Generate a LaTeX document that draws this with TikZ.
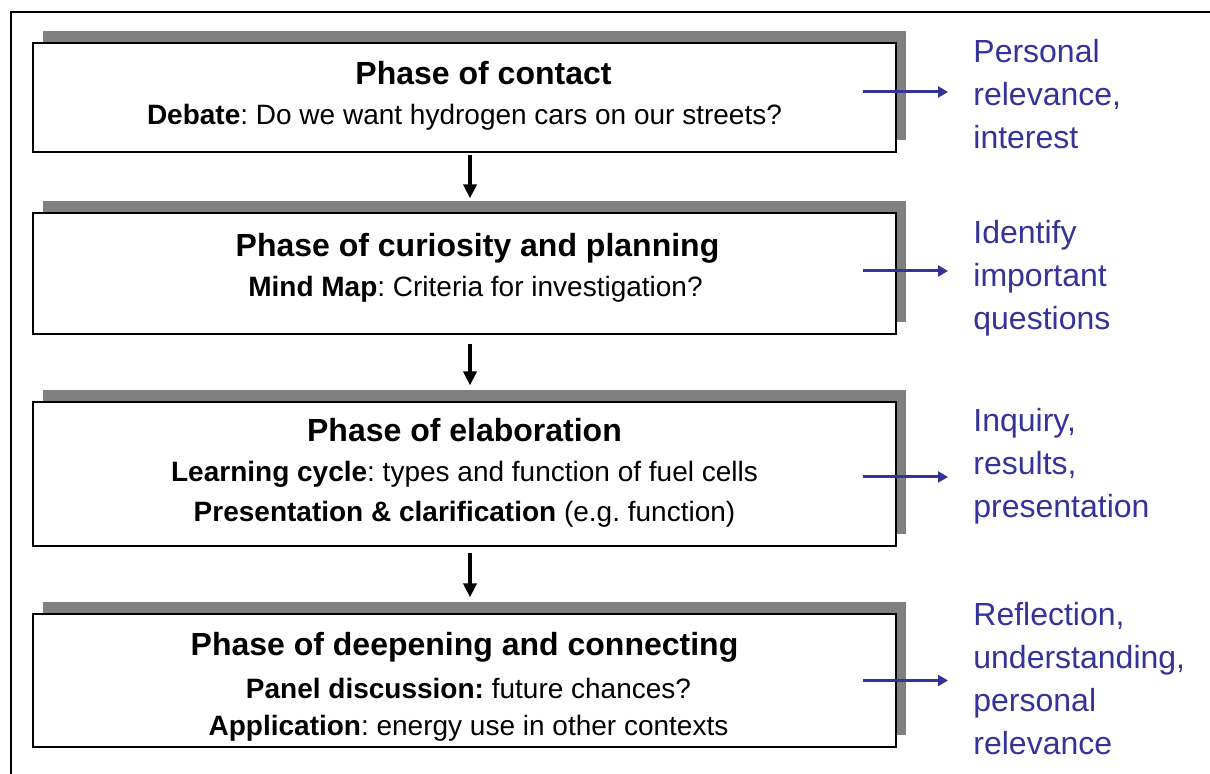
\documentclass[tikz,border=0pt]{standalone}
\usepackage{fontspec}
\setmainfont{Liberation Sans}
\frenchspacing
\usetikzlibrary{shadows,arrows.meta}
\definecolor{goalblue}{RGB}{51,51,153}
\definecolor{shadegray}{RGB}{128,128,128}
\tikzset{
  phasebox/.style={draw, line width=0.6pt, fill=white, minimum width=431.5pt, inner sep=0pt,
    drop shadow={shadow xshift=5pt, shadow yshift=6pt, fill=shadegray, opacity=1}},
  phasetext/.style={inner sep=0pt, align=center, font=\fontsize{14}{20}\selectfont},
  goal/.style={anchor=north west, inner sep=0pt, align=left, text=goalblue,
    font=\fontsize{16}{21.5}\selectfont},
  down/.style={-{Triangle[width=6.5pt,length=7pt]}, line width=2pt},
  side/.style={-{Triangle[width=5.5pt,length=5pt]}, line width=1.5pt, goalblue, shorten >=12.5pt}
}
\newcommand{\phasetitle}[1]{{\fontsize{16}{20}\selectfont\bfseries #1}}
\begin{document}
\begin{tikzpicture}[x=0.5pt,y=-0.5pt]
		\useasboundingbox (0,0) rectangle (1210,774);
		\draw[line width=0.75pt] (11,800) |- (1230,12);
		
		\node[phasebox, minimum height=54.5pt] (b1) at (464.5,97.5) {};
		\node[phasebox, minimum height=60.5pt] (b2) at (464.5,273.5) {};
		\node[phasebox, minimum height=72pt] (b3) at (464.5,474) {};
		\node[phasebox, minimum height=66.5pt] (b4) at (464.5,680.5) {};
		
		\node[phasetext] (t1) at ([yshift=1pt]b1.center)
		  {\hspace*{19pt}\phasetitle{Phase of contact}\\ \textbf{Debate}: Do we want hydrogen cars on our streets?};
		\node[phasetext] (t2) at ([yshift=3pt]b2.center)
		  {\hspace*{13pt}\phasetitle{Phase of curiosity and planning}\\ \hspace*{11pt}\textbf{Mind Map}: Criteria for investigation?};
		\node[phasetext] (t3) at ([yshift=0.5pt]b3.center)
		  {\phasetitle{Phase of elaboration}\\ \textbf{Learning cycle}: types and function of fuel cells\\
		   \textbf{Presentation \& clarification} (e.g. function)};
		\node[phasetext] (t4) at ([yshift=-3pt]b4.center)
		  {\phasetitle{Phase of deepening and connecting}\\[1.5pt] \hspace*{4pt}\textbf{Panel discussion:} future chances?\\[-1.5pt]
		   \hspace*{4pt}\textbf{Application}: energy use in other contexts};
		
		\node[goal] (l1) at (973,39) {Personal\\ relevance,\\ interest};
		\node[goal] (l2) at (973,220) {Identify\\ important\\ questions};
		\node[goal] (l3) at (973,408) {Inquiry,\\ results,\\ presentation};
		\node[goal] (l4) at (973,602) {Reflection,\\ understanding,\\ personal\\ relevance};
		
		\draw[down] ([xshift=2.75pt,yshift=-1pt]b1.south) -- ([xshift=2.75pt,yshift=7pt]b2.north);
		\draw[down] ([xshift=2.75pt,yshift=-4.5pt]b2.south) -- ([xshift=2.75pt,yshift=8pt]b3.north);
		\draw[down] ([xshift=2.75pt,yshift=-3pt]b3.south) -- ([xshift=2.75pt,yshift=8pt]b4.north);
		
		\draw[side] ([xshift=-17pt,yshift=2.75pt]b1.east) coordinate (s1) -- (s1 -| l1.west);
		\draw[side] ([xshift=-17pt,yshift=1.25pt]b2.east) coordinate (s2) -- (s2 -| l2.west);
		\draw[side] ([xshift=-17pt,yshift=-1.5pt]b3.east) coordinate (s3) -- (s3 -| l3.west);
		\draw[side] ([xshift=-17pt]b4.east) coordinate (s4) -- (s4 -| l4.west);
		
		\end{tikzpicture}
\end{document}
